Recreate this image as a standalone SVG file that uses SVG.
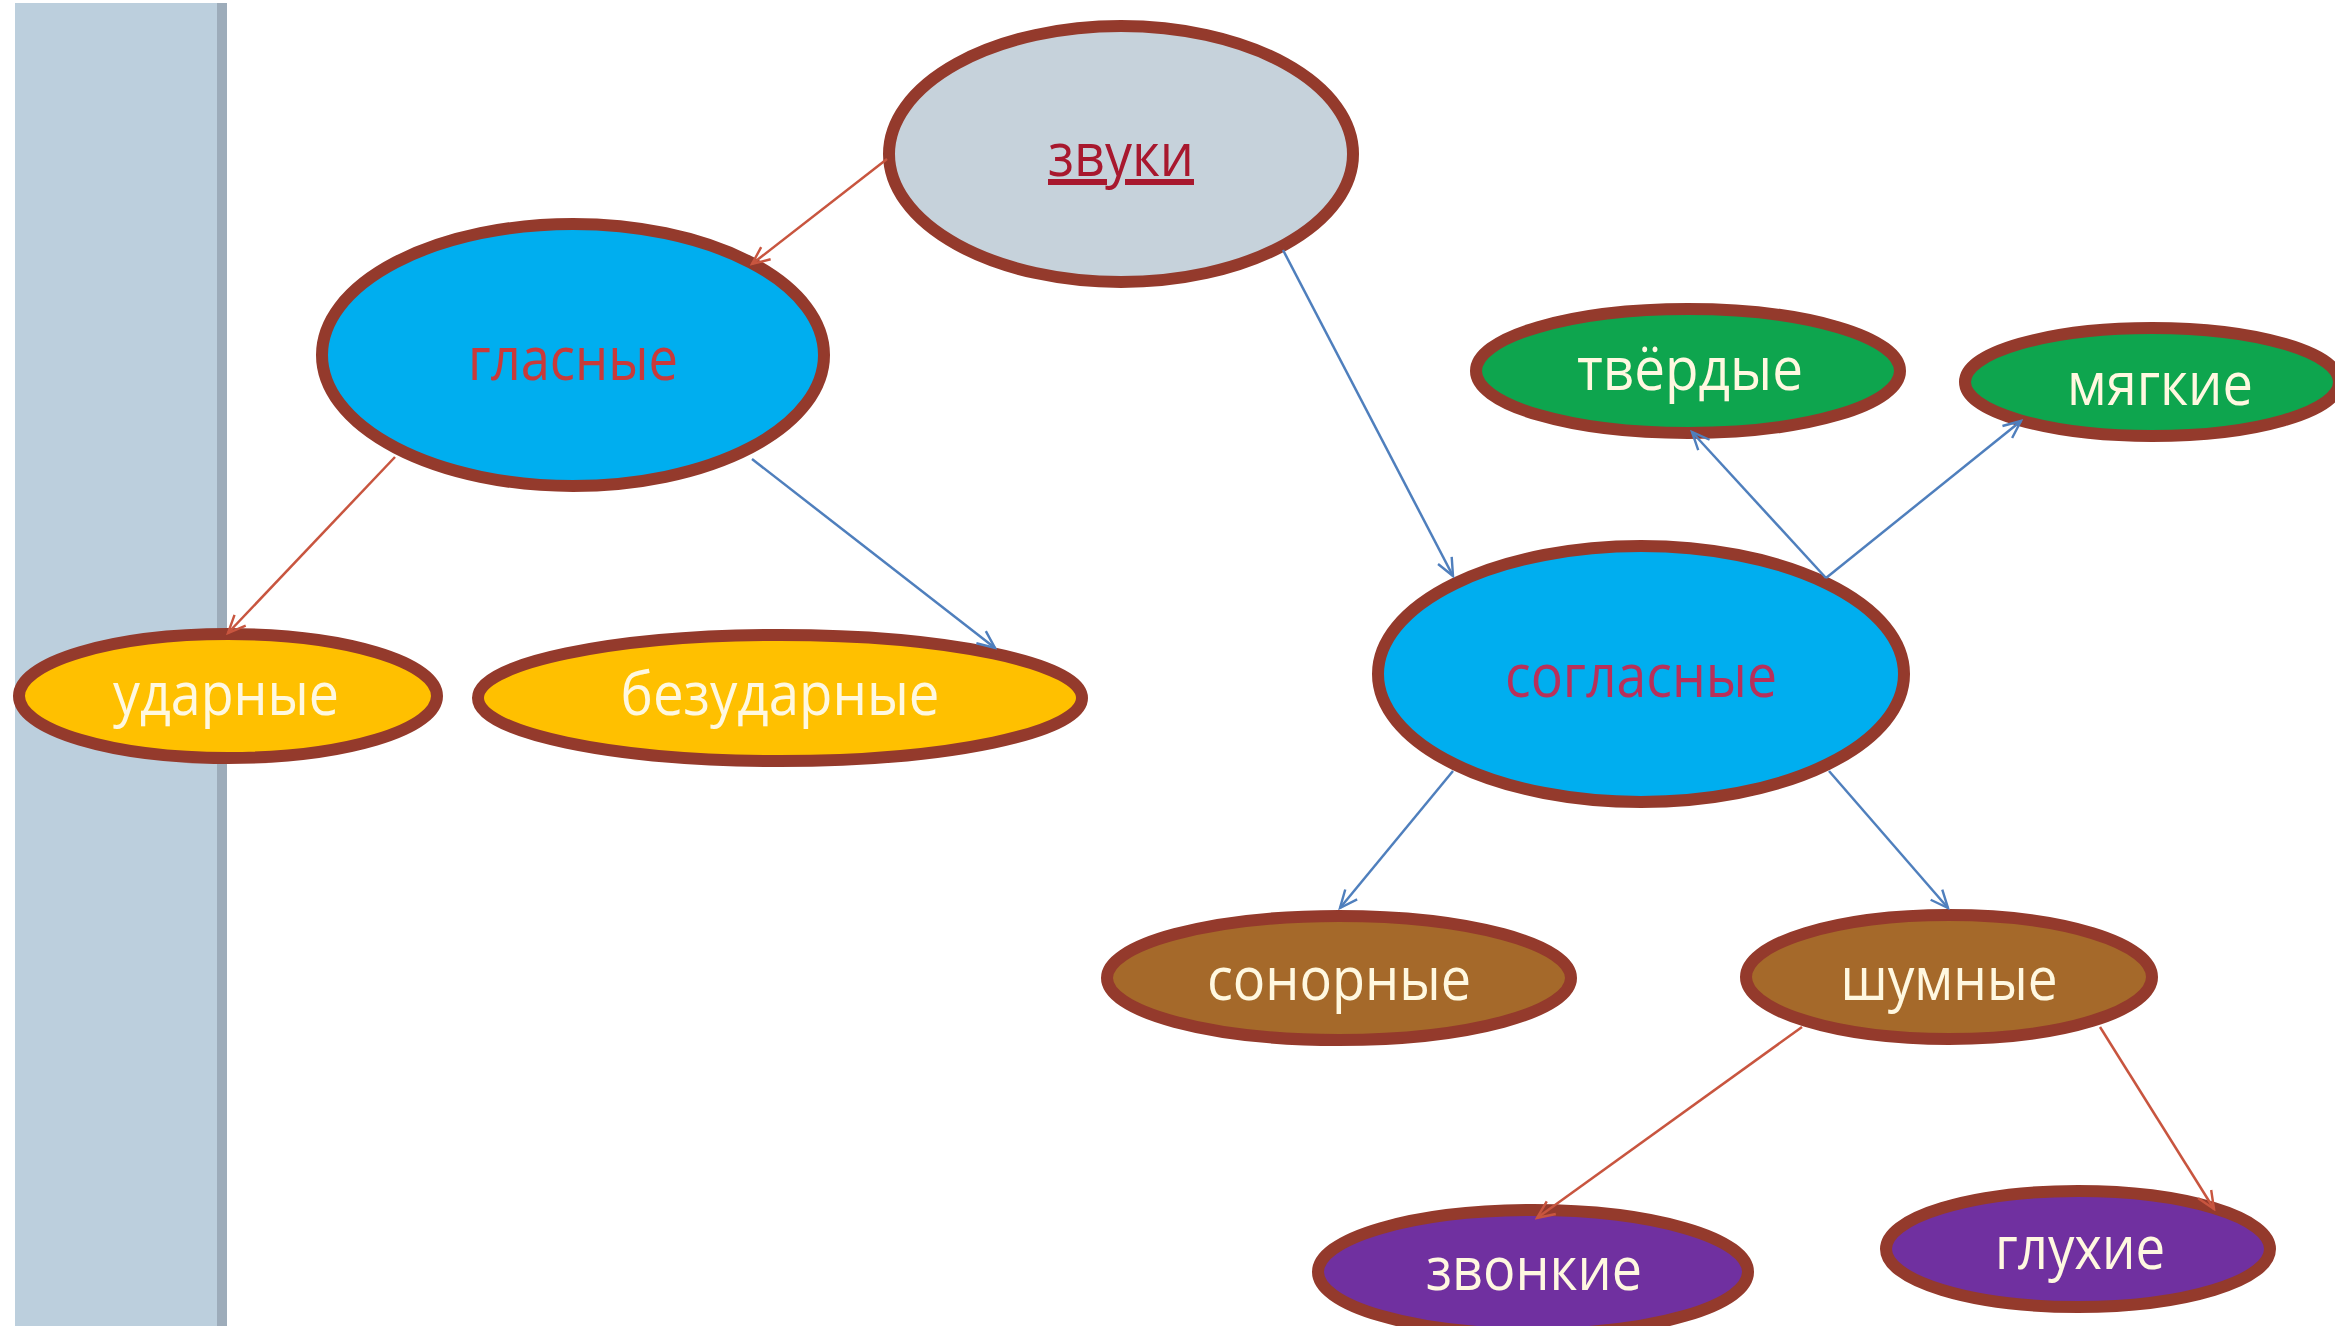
<svg xmlns="http://www.w3.org/2000/svg" width="2335" height="1326" viewBox="0 0 2335 1326">
<defs>
<style>
.node ellipse{stroke:#943a2c;stroke-width:12}
.lbl{font-family:"Open Sans","Liberation Sans",sans-serif;font-size:60px;text-anchor:middle;fill:#fff8e0}
.blue{stroke:#4f7fbd;stroke-width:2.5;fill:none}
.red{stroke:#c8553f;stroke-width:2.5;fill:none}
</style>
<marker id="ab" viewBox="0 0 20 20" refX="18" refY="10" markerWidth="22" markerHeight="22" markerUnits="userSpaceOnUse" orient="auto"><path d="M2,3 L18,10 L2,17" fill="none" stroke="#4f7fbd" stroke-width="2.2"/></marker>
<marker id="ar" viewBox="0 0 20 20" refX="18" refY="10" markerWidth="22" markerHeight="22" markerUnits="userSpaceOnUse" orient="auto"><path d="M2,3 L18,10 L2,17" fill="none" stroke="#c8553f" stroke-width="2.2"/></marker>
</defs>
<rect width="2335" height="1326" fill="#ffffff"/>
<rect x="15" y="3" width="212" height="1323" fill="#bccfdd"/>
<rect x="217" y="3" width="10" height="1323" fill="#9dacba"/>
<g id="n-zvuki" class="node"><ellipse cx="1121" cy="154" rx="232" ry="128" fill="#c6d2db"/><text class="lbl" x="1121" y="176" style="fill:#a8182e;text-decoration:underline" textLength="146" lengthAdjust="spacingAndGlyphs">звуки</text></g>
<g id="n-glasnye" class="node"><ellipse cx="573" cy="355" rx="251" ry="131" fill="#00aeef"/><text class="lbl" x="573" y="380" style="fill:#c93a3a" textLength="210" lengthAdjust="spacingAndGlyphs">гласные</text></g>
<g id="n-udarnye" class="node"><ellipse cx="228" cy="696" rx="209" ry="62" fill="#ffc000"/><text class="lbl" x="226" y="715" textLength="226" lengthAdjust="spacingAndGlyphs">ударные</text></g>
<g id="n-bezudarnye" class="node"><ellipse cx="780" cy="698" rx="302" ry="63" fill="#ffc000"/><text class="lbl" x="780" y="715" textLength="319" lengthAdjust="spacingAndGlyphs">безударные</text></g>
<g id="n-tverdye" class="node"><ellipse cx="1688" cy="371" rx="212" ry="62" fill="#0ea54e"/><text class="lbl" x="1690" y="390" textLength="226" lengthAdjust="spacingAndGlyphs">твёрдые</text></g>
<g id="n-myagkie" class="node"><ellipse cx="2152" cy="382" rx="187" ry="54" fill="#0ea54e"/><text class="lbl" x="2160" y="405" textLength="186" lengthAdjust="spacingAndGlyphs">мягкие</text></g>
<g id="n-soglasnye" class="node"><ellipse cx="1641" cy="674" rx="263" ry="128" fill="#00aeef"/><text class="lbl" x="1641" y="697" style="fill:#b8305a" textLength="272" lengthAdjust="spacingAndGlyphs">согласные</text></g>
<g id="n-sonornye" class="node"><ellipse cx="1339" cy="978" rx="232" ry="62" fill="#a5692a"/><text class="lbl" x="1339" y="1000" textLength="264" lengthAdjust="spacingAndGlyphs">сонорные</text></g>
<g id="n-shumnye" class="node"><ellipse cx="1949" cy="977" rx="203" ry="62" fill="#a5692a"/><text class="lbl" x="1949" y="1000" textLength="217" lengthAdjust="spacingAndGlyphs">шумные</text></g>
<g id="n-zvonkie" class="node"><ellipse cx="1533" cy="1272" rx="215" ry="62" fill="#7030a0"/><text class="lbl" x="1534" y="1290" textLength="216" lengthAdjust="spacingAndGlyphs">звонкие</text></g>
<g id="n-gluhie" class="node"><ellipse cx="2078" cy="1249" rx="192" ry="58" fill="#7030a0"/><text class="lbl" x="2080" y="1269" textLength="170" lengthAdjust="spacingAndGlyphs">глухие</text></g>
<g id="connectors">
<line class="red" x1="887" y1="159" x2="752" y2="264" marker-end="url(#ar)"/>
<line class="blue" x1="1283" y1="250" x2="1453" y2="576" marker-end="url(#ab)"/>
<line class="red" x1="395" y1="457" x2="228" y2="633" marker-end="url(#ar)"/>
<line class="blue" x1="752" y1="459" x2="995" y2="648" marker-end="url(#ab)"/>
<line class="blue" x1="1826" y1="578" x2="1692" y2="432" marker-end="url(#ab)"/>
<line class="blue" x1="1826" y1="578" x2="2021" y2="421" marker-end="url(#ab)"/>
<line class="blue" x1="1453" y1="771" x2="1340" y2="908" marker-end="url(#ab)"/>
<line class="blue" x1="1829" y1="771" x2="1948" y2="908" marker-end="url(#ab)"/>
<line class="red" x1="1802" y1="1027" x2="1537" y2="1218" marker-end="url(#ar)"/>
<line class="red" x1="2100" y1="1027" x2="2214" y2="1209" marker-end="url(#ar)"/>
</g>
</svg>
